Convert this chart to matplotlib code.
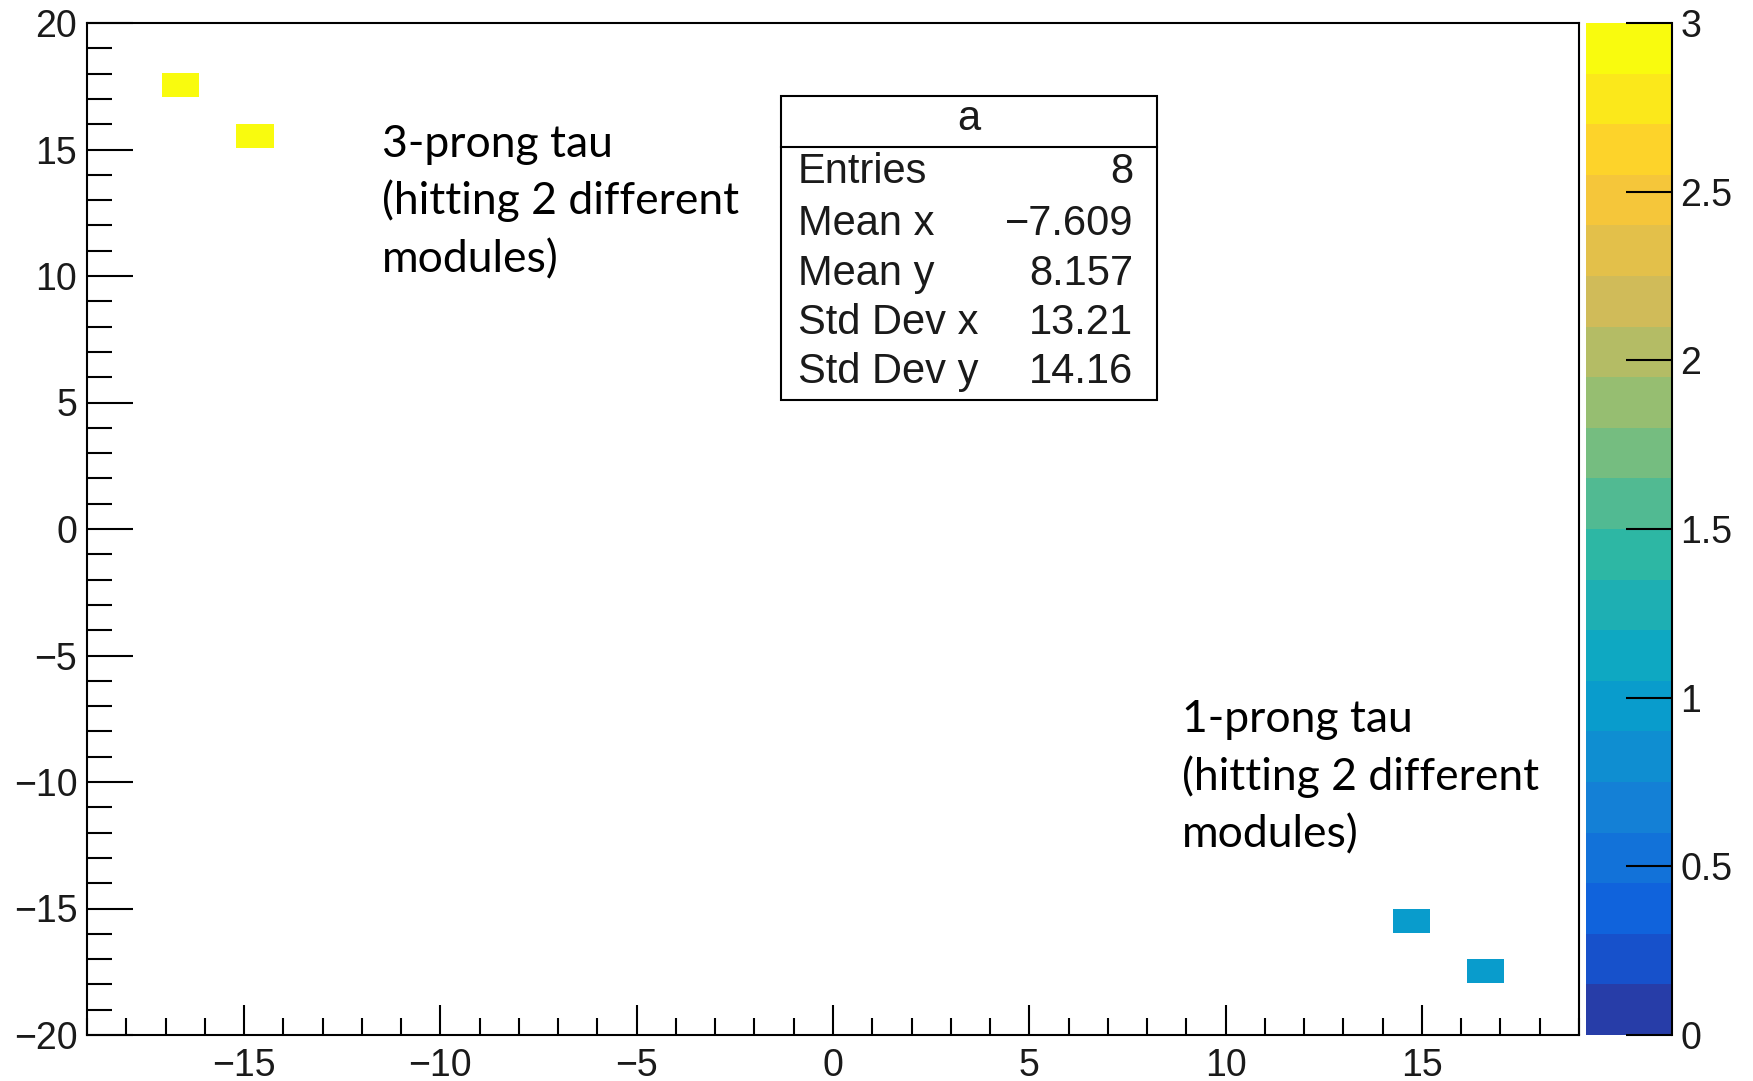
"""2D occupancy map of tau hits, ROOT-style (kBird palette, stats box)."""

import matplotlib

matplotlib.use("Agg")
import matplotlib.pyplot as plt
import numpy as np
from matplotlib.colors import LinearSegmentedColormap, ListedColormap, Normalize
from matplotlib.cm import ScalarMappable
from matplotlib.patches import Rectangle
from matplotlib.lines import Line2D
from matplotlib.ticker import FuncFormatter, MultipleLocator

# --- data ---
cell_x = [-16.625, -14.725, 14.725, 16.625]
cell_y = [17.55, 15.55, -15.475, -17.475]
cell_counts = [3, 3, 1, 1]

stats_title = "a"
stats_labels = ["Entries", "Mean x", "Mean y", "Std Dev x", "Std Dev y"]
stats_values = ["8", "\u22127.609", "8.157", "13.21", "14.16"]

note_3prong = ["3-prong tau", "(hitting 2 different", "modules)"]
note_1prong = ["1-prong tau", "(hitting 2 different", "modules)"]

z_ticks = [0, 0.5, 1, 1.5, 2, 2.5, 3]

# ROOT kBird palette
bird_stops = np.linspace(0, 1, 9)
bird_r = [0.2082, 0.0592, 0.0780, 0.0232, 0.1802, 0.5301, 0.8186, 0.9956, 0.9764]
bird_g = [0.1664, 0.3599, 0.5041, 0.6419, 0.7178, 0.7492, 0.7328, 0.7862, 0.9832]
bird_b = [0.5293, 0.8684, 0.8385, 0.7914, 0.6425, 0.4662, 0.3499, 0.1968, 0.0539]

W, H = 1753, 1081
BIN = 0.95
N_LEVELS = 20
TXT = "#1a1a1a"


def fx(px):
    return px / W


def fy(py):
    return 1 - py / H


def root_label(v, _pos=None):
    return f"{v:g}".replace("-", "\u2212")


bird = LinearSegmentedColormap.from_list(
    "bird", list(zip(bird_stops, zip(bird_r, bird_g, bird_b)))
)
cmap = ListedColormap([bird((i + 0.99) / N_LEVELS) for i in range(N_LEVELS)])
norm = Normalize(vmin=0, vmax=3)

fig = plt.figure(figsize=(W / 100, H / 100), dpi=100)
ax = fig.add_axes([fx(87), fy(1035), fx(1579 - 87), (1035 - 23) / H])

for x, y, c in zip(cell_x, cell_y, cell_counts):
    ax.bar(x, BIN, width=BIN, bottom=y - BIN / 2, color=cmap(norm(c)), linewidth=0)

ax.set_xlim(-19, 19)
ax.set_ylim(-20, 20)
ax.xaxis.set_major_locator(MultipleLocator(5))
ax.xaxis.set_minor_locator(MultipleLocator(1))
ax.yaxis.set_major_locator(MultipleLocator(5))
ax.yaxis.set_minor_locator(MultipleLocator(1))
ax.xaxis.set_major_formatter(FuncFormatter(root_label))
ax.yaxis.set_major_formatter(FuncFormatter(root_label))
for spine in ax.spines.values():
    spine.set_linewidth(1.5)
ax.tick_params(axis="both", which="both", direction="in", width=1.5,
               top=False, right=False, colors="black", labelcolor=TXT,
               labelsize=27, labelfontfamily="Liberation Sans")
ax.tick_params(axis="x", which="major", length=21.6, pad=9)
ax.tick_params(axis="x", which="minor", length=12.2)
ax.tick_params(axis="y", which="major", length=33, pad=7)
ax.tick_params(axis="y", which="minor", length=18)

# colour scale
cax = fig.add_axes([fx(1586), fy(1035), fx(86), (1035 - 23) / H])
cb = fig.colorbar(ScalarMappable(norm=norm, cmap=cmap), cax=cax)
cb.outline.set_visible(False)
cax.spines["right"].set_visible(True)
cax.spines["right"].set_linewidth(1.5)
cb.set_ticks(z_ticks)
cax.yaxis.set_major_formatter(FuncFormatter(root_label))
cax.tick_params(axis="y", which="major", direction="in", length=33, width=1.5,
                pad=6, labelsize=27, labelcolor=TXT,
                labelfontfamily="Liberation Sans")
cax.minorticks_off()

# stats box
fig.patches.append(Rectangle((fx(781), fy(400)), fx(1157 - 781), (400 - 96) / H,
                             transform=fig.transFigure, facecolor="white",
                             edgecolor="black", linewidth=1.5, zorder=5))
fig.lines.append(Line2D([fx(781), fx(1157)], [fy(147), fy(147)],
                        transform=fig.transFigure, color="black", linewidth=1.5,
                        zorder=6))
stat_font = dict(family="Liberation Sans", size=30, color=TXT, zorder=7)
fig.text(fx(969), fy(130), stats_title, ha="center", va="baseline", **stat_font)
row_base = [183, 235, 285, 334, 383]
for label, value, yb in zip(stats_labels, stats_values, row_base):
    fig.text(fx(798), fy(yb), label, ha="left", va="baseline", **stat_font)
    fig.text(fx(1133), fy(yb), value, ha="right", va="baseline", **stat_font)

# annotations
note_font = dict(family="Lato", size=32, color="black")
for i, line in enumerate(note_3prong):
    fig.text(fx(382), fy(157 + 57.5 * i), line, ha="left", va="baseline", **note_font)
for i, line in enumerate(note_1prong):
    fig.text(fx(1182), fy(732 + 57.5 * i), line, ha="left", va="baseline", **note_font)

fig.savefig("out.png", dpi=100)
